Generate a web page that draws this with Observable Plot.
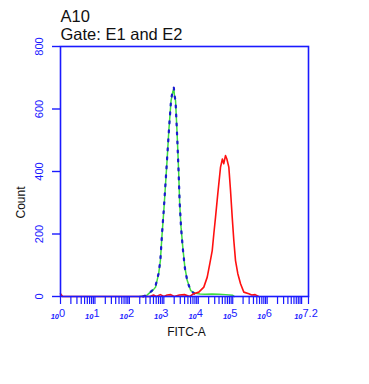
<!DOCTYPE html>
<html>
<head>
<meta charset="utf-8">
<script src="https://cdn.jsdelivr.net/npm/d3@7"></script>
<script src="https://cdn.jsdelivr.net/npm/@observablehq/plot@0.6"></script>
<style>
  html, body { margin: 0; padding: 0; background: #fff; }
  svg { display: block; }
</style>
</head>
<body>
<div id="chart"></div>
<script>
// Titles
const titleLines = ["A10", "Gate: E1 and E2"];
const xLabel = "FITC-A";
const yLabel = "Count";

// Y ticks (Count)
const yTicks = [0, 200, 400, 600, 800];

// X axis: log10 decades, major label positions and exponent texts
const xMajor = [0, 1, 2, 3, 4, 5, 6];
const xMajorExp = ["0", "1", "2", "3", "4", "5", "6"];
const xEnd = [7.2];
const xEndExp = ["7.2"];
// minor tick multipliers within each decade
const minorMult = [1, 2, 3, 4, 5, 6, 7, 8, 9];

// Red histogram (log10 FITC-A, count)
const redLog = [0, 0.06, 2.6, 2.7, 2.78, 2.9, 3.0, 3.1, 3.2, 3.3, 3.45, 3.6, 3.75, 3.87, 4.016, 4.161, 4.26, 4.335, 4.405, 4.451, 4.501, 4.567, 4.646, 4.70, 4.74, 4.79, 4.83, 4.887, 4.936, 4.985, 5.032, 5.081, 5.148, 5.227, 5.322, 5.467, 5.55, 5.65, 5.75];
const redCount = [9, 0, 0, 5, 0, 6, 0, 5, 6, 0, 5, 6, 0, 9, 14, 30, 62, 105, 147, 200, 254, 329, 414, 440, 425, 451, 440, 414, 339, 254, 179, 115, 73, 41, 14, 9, 5, 6, 0];

// Green histogram
const greenLog = [2.3, 2.5, 2.61, 2.70, 2.76, 2.85, 2.90, 2.95, 3.00, 3.05, 3.10, 3.145, 3.21, 3.26, 3.29, 3.31, 3.34, 3.39, 3.43, 3.46, 3.50, 3.55, 3.61, 3.68, 3.78, 3.92, 4.05, 4.2, 4.4, 4.6, 4.8, 5.0, 5.05];
const greenCount = [0, 3, 14, 22, 30, 73, 115, 201, 275, 360, 446, 531, 627, 655, 665, 640, 627, 510, 400, 297, 222, 158, 94, 51, 19, 10, 8, 7, 8, 7, 6, 4, 0];

// Blue (dotted) histogram
const blueLog = [2.4, 2.55, 2.65, 2.75, 2.85, 2.90, 2.95, 3.00, 3.05, 3.10, 3.15, 3.21, 3.26, 3.29, 3.31, 3.34, 3.39, 3.43, 3.46, 3.50, 3.55, 3.61, 3.68, 3.78, 3.90, 4.0];
const blueCount = [0, 8, 18, 30, 75, 118, 205, 280, 365, 450, 535, 630, 660, 668, 645, 625, 505, 395, 300, 220, 155, 92, 50, 18, 8, 0];

const BLUE = "#1a1aff";
const toRows = (xs, ys) => xs.map((x, i) => ({x, y: ys[i]}));
const red = toRows(redLog, redCount);
const green = toRows(greenLog, greenCount);
const blue = toRows(blueLog, blueCount);

const minorTicks = [];
for (let d = 0; d <= 7; d++) for (const m of minorMult) {
  const v = d + Math.log10(m);
  if (v <= 7.2 + 1e-9) minorTicks.push(v);
}
minorTicks.push(7.2);

const font = "Liberation Sans, Arial, sans-serif";

const chart = Plot.plot({
  width: 369,
  height: 384,
  marginLeft: 60,
  marginRight: 61,
  marginTop: 46,
  marginBottom: 88,
  style: {fontFamily: font, background: "#fff", overflow: "visible"},
  x: {type: "linear", domain: [0, 7.2], axis: null},
  y: {domain: [0, 800], axis: null},
  marks: [
    Plot.line(green, {x: "x", y: "y", stroke: "#3fdc3f", strokeWidth: 1.5}),
    Plot.line(blue, {x: "x", y: "y", stroke: "#1a1ad0", strokeWidth: 2.2, strokeDasharray: "2,7"}),
    Plot.line(red, {x: "x", y: "y", stroke: "#ff1010", strokeWidth: 1.6}),
    Plot.frame({stroke: BLUE, strokeWidth: 1.6}),
    Plot.axisX({ticks: minorTicks, tickSize: 8, tickFormat: () => "", label: null, stroke: BLUE, strokeWidth: 1.2, anchor: "bottom"}),
    Plot.axisY({ticks: yTicks, tickSize: 8, tickFormat: () => "", label: null, stroke: BLUE, strokeWidth: 1.4, anchor: "left"}),
    // y tick labels, rotated
    Plot.text(yTicks, {y: d => d, text: d => String(d), frameAnchor: "left", dx: -21, rotate: -90,
      fill: BLUE, fontSize: 11, textAnchor: "middle", lineAnchor: "middle"}),
    // x tick labels: small "10" + exponent
    Plot.text(xMajor, {x: d => d, text: () => "10", frameAnchor: "bottom", dy: 22.5, dx: -1.5,
      textAnchor: "end", lineAnchor: "bottom", fill: BLUE, fontSize: 7.5, fontStyle: "italic", fontWeight: "bold"}),
    Plot.text(xMajor, {x: d => d, text: (d, i) => xMajorExp[i], frameAnchor: "bottom", dy: 20.8, dx: -1.5,
      textAnchor: "start", lineAnchor: "bottom", fill: BLUE, fontSize: 11}),
    Plot.text(xEnd, {x: d => d, text: () => "10", frameAnchor: "bottom", dy: 22.5, dx: -6,
      textAnchor: "end", lineAnchor: "bottom", fill: BLUE, fontSize: 7.5, fontStyle: "italic", fontWeight: "bold"}),
    Plot.text(xEnd, {x: d => d, text: (d, i) => xEndExp[i], frameAnchor: "bottom", dy: 20.8, dx: -6,
      textAnchor: "start", lineAnchor: "bottom", fill: BLUE, fontSize: 11}),
    // axis titles
    Plot.text([xLabel], {text: d => d, frameAnchor: "bottom", dx: 2, dy: 36, lineAnchor: "middle",
      fill: "#111", fontSize: 12, letterSpacing: "1.6px"}),
    Plot.text([yLabel], {text: d => d, frameAnchor: "left", dx: -39, dy: 31, rotate: -90,
      textAnchor: "middle", lineAnchor: "middle", fill: "#111", fontSize: 12}),
    // titles
    Plot.text([titleLines[0]], {text: d => d, frameAnchor: "top-left", dy: -24.5, textAnchor: "start",
      lineAnchor: "bottom", fill: "#111", fontSize: 16.5}),
    Plot.text([titleLines[1]], {text: d => d, frameAnchor: "top-left", dy: -6.5, textAnchor: "start",
      lineAnchor: "bottom", fill: "#111", fontSize: 16.5})
  ]
});
document.getElementById("chart").appendChild(chart);
</script>
</body>
</html>
